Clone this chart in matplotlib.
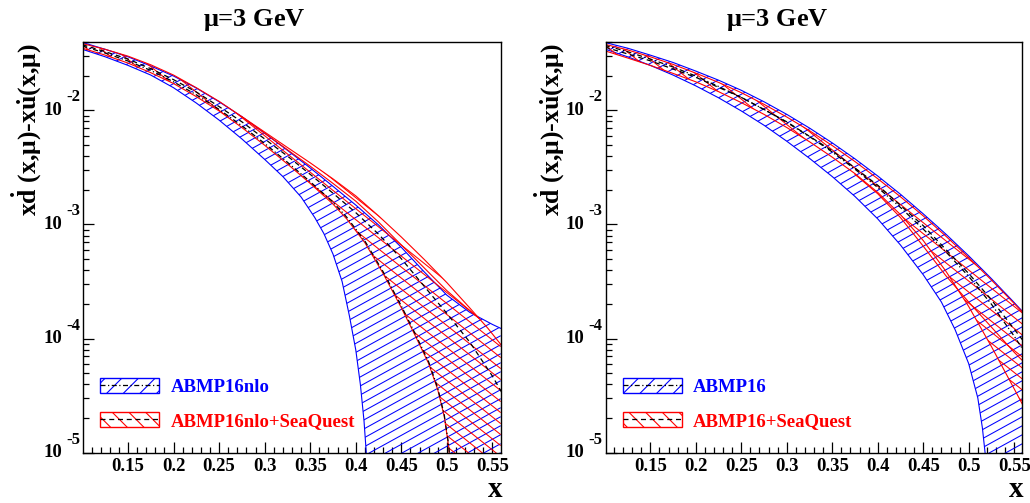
import matplotlib
matplotlib.use('Agg')
import matplotlib.pyplot as plt
import numpy as np
from matplotlib.patches import Patch
from matplotlib.lines import Line2D
from matplotlib.collections import LineCollection
from matplotlib.ticker import MultipleLocator, LogLocator, FuncFormatter, NullFormatter

plt.rcParams['font.family'] = ['Liberation Serif', 'DejaVu Serif']
plt.rcParams['font.weight'] = 'bold'
plt.rcParams['mathtext.fontset'] = 'custom'
plt.rcParams['mathtext.rm'] = 'Liberation Serif'
plt.rcParams['mathtext.bf'] = 'Liberation Serif:bold'
plt.rcParams['mathtext.it'] = 'Liberation Serif:italic'
plt.rcParams['hatch.linewidth'] = 0.8

# common x grid
x_grid = [0.10, 0.125, 0.15, 0.175, 0.20, 0.225, 0.25, 0.275, 0.30, 0.325,
          0.35, 0.375, 0.40, 0.425, 0.45, 0.475, 0.50, 0.525, 0.55, 0.56]

# ---------------- left panel: ABMP16nlo ----------------
nlo_up = [0.0394, 0.0343, 0.0295, 0.0245, 0.0200, 0.0157, 0.0119, 0.00881, 0.00631, 0.00447,
          0.00313, 0.00216, 0.00148, 0.000989, 0.000631, 0.000385, 0.000240, 0.000170, 0.000133, 0.000122]

x_nlo_lo = [0.10, 0.125, 0.15, 0.175, 0.20, 0.225, 0.25, 0.275, 0.30, 0.32, 0.34,
            0.355, 0.365, 0.375, 0.385, 0.393, 0.40, 0.405, 0.409, 0.4115, 0.413]
nlo_lo = [0.0343, 0.0295, 0.0248, 0.0204, 0.0158, 0.0116, 0.00822, 0.00562, 0.00372, 0.00263, 0.00174,
          0.00115, 0.000832, 0.000550, 0.000316, 0.000158, 7.94e-5, 3.98e-5, 1.91e-5, 1.0e-5, 5.0e-6]

# ABMP16nlo+SeaQuest
x_nsq_lo = [0.10, 0.125, 0.15, 0.175, 0.20, 0.225, 0.25, 0.275, 0.30, 0.325, 0.35,
            0.375, 0.39, 0.41, 0.43, 0.45, 0.465, 0.48, 0.49, 0.497, 0.502, 0.5045]
nsq_lo = [0.0351, 0.0305, 0.0260, 0.0214, 0.0172, 0.0132, 0.00989, 0.00708, 0.00495, 0.00339, 0.00229,
          0.00151, 0.00112, 0.000692, 0.000372, 0.000186, 0.000107, 6.03e-5, 3.55e-5, 2.09e-5, 1.12e-5, 6.3e-6]

x_nsq_up = [0.10, 0.125, 0.15, 0.175, 0.20, 0.225, 0.25, 0.275, 0.30, 0.325,
            0.35, 0.375, 0.40, 0.425, 0.45, 0.475, 0.50, 0.525, 0.545, 0.56]
nsq_up = [0.0385, 0.0343, 0.0299, 0.0251, 0.0204, 0.0158, 0.0120, 0.00881, 0.00646, 0.00473,
          0.00347, 0.00251, 0.00178, 0.00119, 0.000776, 0.000495, 0.000309, 0.000186, 0.000123, 8.71e-5]

x_nsq_in = [0.275, 0.30, 0.325, 0.35, 0.375, 0.40, 0.425, 0.45, 0.475, 0.50, 0.52, 0.535]
nsq_in = [0.00877, 0.00631, 0.00452, 0.00324, 0.00229, 0.00160, 0.00105, 0.000661, 0.000417,
          0.000263, 0.000191, 0.000151]

# central values (nlo runs on the SeaQuest lower-edge grid)
nlo_c = [0.0367, 0.0318, 0.0271, 0.0224, 0.0178, 0.0137, 0.0102, 0.00733, 0.00513, 0.00351, 0.00237,
         0.00157, 0.00116, 0.000716, 0.000385, 0.000193, 0.000111, 6.24e-5, 3.67e-5, 2.16e-5, 1.16e-5, 6.3e-6]
nsq_c = [0.0376, 0.0327, 0.0282, 0.0232, 0.0186, 0.0145, 0.0108, 0.00794, 0.00562, 0.00398,
         0.00275, 0.00188, 0.00127, 0.000822, 0.000501, 0.000288, 0.000166, 9.33e-5, 4.68e-5, 3.39e-5]

# ---------------- right panel: ABMP16 ----------------
a_up = [0.0394, 0.0351, 0.0305, 0.0263, 0.0221, 0.0184, 0.0150, 0.0119, 0.00923, 0.00700,
        0.00519, 0.00376, 0.00266, 0.00184, 0.00124, 0.000822, 0.000531, 0.000335, 0.000207, 0.000170]

x_a_lo = [0.10, 0.125, 0.15, 0.175, 0.20, 0.225, 0.25, 0.275, 0.30, 0.325, 0.35,
          0.375, 0.40, 0.425, 0.45, 0.47, 0.485, 0.50, 0.51, 0.515, 0.518, 0.52]
a_lo = [0.0345, 0.0295, 0.0248, 0.0204, 0.0164, 0.0129, 0.00989, 0.00741, 0.00537, 0.00380, 0.00263,
        0.00176, 0.00112, 0.000661, 0.000363, 0.000209, 0.000120, 6.03e-5, 3.02e-5, 1.66e-5, 1.0e-5, 6.3e-6]

a_c = [0.0372, 0.0327, 0.0282, 0.0240, 0.0200, 0.0162, 0.0130, 0.0102, 0.00785, 0.00589,
       0.00432, 0.00305, 0.00211, 0.00141, 0.000912, 0.000575, 0.000351, 0.000200, 0.000105, 7.94e-5]

# ABMP16+SeaQuest
asq_up = [0.0380, 0.0339, 0.0295, 0.0253, 0.0212, 0.0176, 0.0143, 0.0113, 0.00875, 0.00664,
          0.00492, 0.00356, 0.00252, 0.00175, 0.00119, 0.000789, 0.000513, 0.000326, 0.000203, 0.000168]
asq_lo = [0.0333, 0.0288, 0.0248, 0.0211, 0.0178, 0.0146, 0.0117, 0.00923, 0.00708, 0.00531,
          0.00389, 0.00279, 0.00191, 0.00122, 0.000724, 0.000389, 0.000191, 8.51e-5, 3.63e-5, 2.57e-5]

x_asq_in = [0.375, 0.40, 0.425, 0.45, 0.475, 0.50, 0.525, 0.55, 0.56]
asq_in = [0.00275, 0.00186, 0.00115, 0.000646, 0.000355, 0.000209, 0.000126, 7.59e-5, 6.31e-5]

x_asq_c = [0.10, 0.15, 0.20, 0.25, 0.30, 0.35, 0.40, 0.45, 0.50, 0.525, 0.56]
asq_c = [0.0359, 0.0272, 0.0195, 0.0130, 0.00794, 0.00442, 0.00221, 0.000977, 0.000372, 0.000219, 9.55e-5]

XMIN, XMAX = 0.101, 0.559
YMIN, YMAX = 1e-5, 0.04
FLOOR = 1e-6   # bands whose lower edge turns negative run on below the axis floor

BLUE = '#0000ff'
RED = '#ff0000'


def band(ax, xu, yu, xl, yl, color, slope, gap, z):
    px = list(xu) + [xu[-1]] + list(xl)[::-1]
    py = list(yu) + [FLOOR] + list(yl)[::-1]
    poly = ax.fill(px, py, facecolor='none', edgecolor='none', zorder=z)[0]
    # ROOT-like hatch: straight lines at a fixed screen angle, clipped to the band
    pos = ax.get_position()
    W = pos.width * fig.bbox.width
    H = pos.height * fig.bbox.height
    m = slope * W / H
    step = gap / H
    if m > 0:
        cs = np.arange(-m, 1 + step, step)
    else:
        cs = np.arange(0, 1 - m + step, step)
    segs = [[(0, c), (1, c + m)] for c in cs]
    lc = LineCollection(segs, colors=color, linewidths=0.75, transform=ax.transAxes, zorder=z)
    ax.add_collection(lc, autolim=False)
    lc.set_clip_path(poly)
    ax.plot(xu, yu, color=color, lw=0.8, zorder=z + 0.5)
    ax.plot(xl, yl, color=color, lw=0.8, zorder=z + 0.5)


def setup(ax, labels):
    ax.set_yscale('log')
    ax.set_xlim(XMIN, XMAX)
    ax.set_ylim(YMIN, YMAX)
    ax.xaxis.set_major_locator(MultipleLocator(0.05))
    ax.xaxis.set_minor_locator(MultipleLocator(0.01))
    ax.xaxis.set_major_formatter(FuncFormatter(lambda v, p: '%g' % round(v, 2)))
    ax.yaxis.set_major_locator(LogLocator(base=10))
    ax.yaxis.set_minor_locator(LogLocator(base=10, subs=np.arange(2, 10)))
    ax.yaxis.set_major_formatter(NullFormatter())
    ax.yaxis.set_minor_formatter(NullFormatter())
    ax.tick_params(which='both', direction='in', top=False, right=False, labelsize=13.5)
    ax.tick_params(which='major', length=8, width=0.9)
    ax.tick_params(which='minor', length=4, width=0.9)
    ax.tick_params(axis='x', pad=4)
    for s in ax.spines.values():
        s.set_linewidth(1.0)
        s.set_zorder(10)

    # ROOT style decade labels: "10" with a large raised exponent
    for d in range(-5, -1):
        ax.annotate('10', xy=(0, 10.0 ** d), xycoords=('axes fraction', 'data'),
                    xytext=(-21, 0), textcoords='offset pixels', ha='right', va='center',
                    fontsize=13.5, fontweight='bold', annotation_clip=False)
        ax.annotate('%d' % d, xy=(0, 10.0 ** d), xycoords=('axes fraction', 'data'),
                    xytext=(-17, 13), textcoords='offset pixels', ha='left', va='center',
                    fontsize=12, fontweight='bold', annotation_clip=False)

    ax.text(0.411, 1.053, r'$\mathrm{\mu}$=3 GeV', transform=ax.transAxes,
            ha='center', va='center', fontsize=19, fontweight='bold')
    ax.text(-0.135, 0.995, r'x$\mathbf{\dot{d}}\ \mathrm{(x{,}\mu)}$-x$\mathbf{\dot{u}}\mathrm{(x{,}\mu)}$',
            transform=ax.transAxes, rotation=90, ha='center', va='top', fontsize=18.5, fontweight='bold')
    ax.text(0.986, -0.09, 'x', transform=ax.transAxes, ha='center', va='center',
            fontsize=21, fontweight='bold')

    h1 = (Patch(facecolor='none', edgecolor=BLUE, hatch='//', lw=1.0),
          Line2D([], [], color='black', lw=0.9, dashes=(4, 2, 1, 2)))
    h2 = (Patch(facecolor='none', edgecolor=RED, hatch='\\\\', lw=1.0),
          Line2D([], [], color='black', lw=0.9, dashes=(4, 3)))
    leg = ax.legend([h1, h2], labels, loc='lower left', bbox_to_anchor=(0.0, 0.014),
                    frameon=False, fontsize=13.5, handlelength=3.15, handleheight=0.9,
                    handletextpad=0.6, labelspacing=0.85)
    leg.get_texts()[0].set_color(BLUE)
    leg.get_texts()[1].set_color(RED)
    leg.set_zorder(20)


fig = plt.figure(figsize=(10.3, 5.03), dpi=100)
ax1 = fig.add_axes([0.0809, 0.1, 0.4052, 0.8171])
ax2 = fig.add_axes([0.5881, 0.1, 0.4045, 0.8171])

# left
band(ax1, x_grid, nlo_up, x_nlo_lo, nlo_lo, BLUE, 0.55, 9, 2)
band(ax1, x_nsq_up, nsq_up, x_nsq_lo, nsq_lo, RED, -0.8, 11, 3)
ax1.plot(x_nsq_in, nsq_in, color=RED, lw=0.8, zorder=3.5)
ax1.plot(x_grid, nsq_c, color='black', lw=0.9, dashes=(4, 3), zorder=4)
ax1.plot(x_nsq_lo, nlo_c, color='black', lw=0.9, dashes=(4, 2, 1, 2), zorder=4)
setup(ax1, ['ABMP16nlo', 'ABMP16nlo+SeaQuest'])

# right
band(ax2, x_grid, a_up, x_a_lo, a_lo, BLUE, 0.55, 9, 2)
band(ax2, x_grid, asq_up, x_grid, asq_lo, RED, -0.8, 11, 3)
ax2.plot(x_asq_in, asq_in, color=RED, lw=0.8, zorder=3.5)
ax2.plot(x_asq_c, asq_c, color='black', lw=0.9, dashes=(4, 3), zorder=4)
ax2.plot(x_grid, a_c, color='black', lw=0.9, dashes=(4, 2, 1, 2), zorder=4)
setup(ax2, ['ABMP16', 'ABMP16+SeaQuest'])

fig.savefig('out.png', dpi=100)
